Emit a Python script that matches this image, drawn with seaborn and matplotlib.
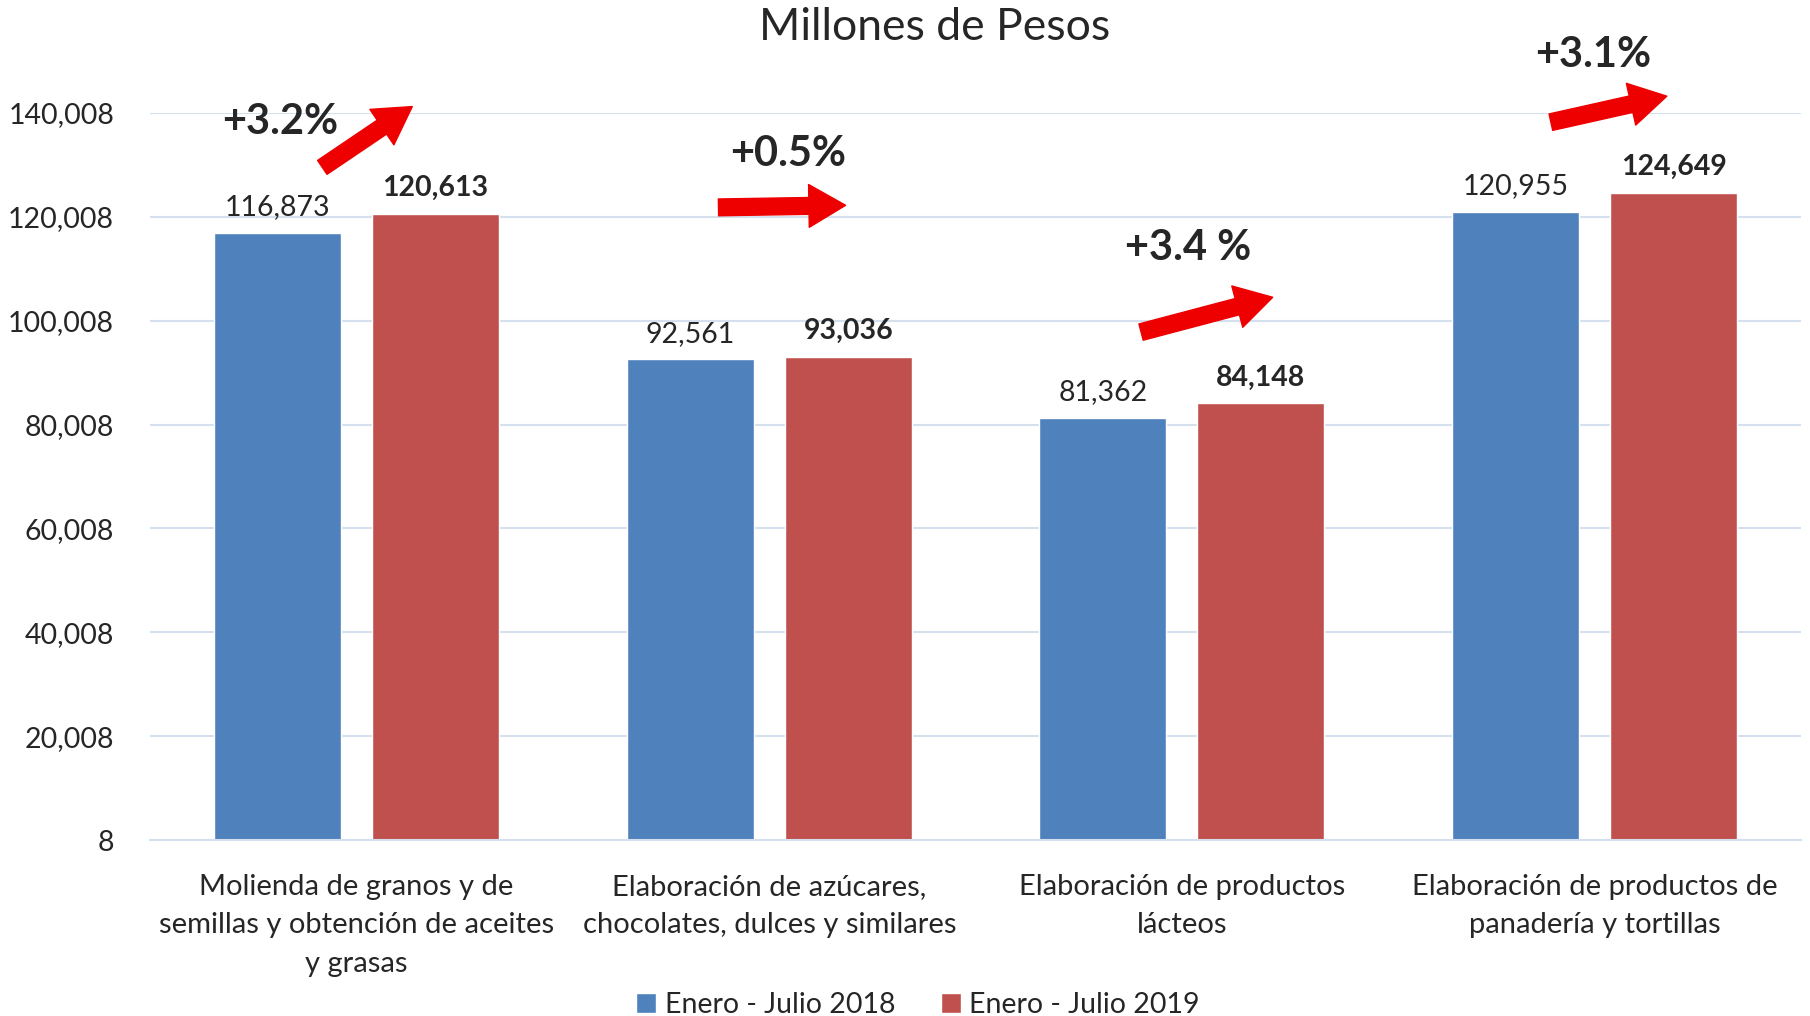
import pandas as pd
import numpy as np
import matplotlib
matplotlib.use('Agg')
import matplotlib.pyplot as plt
import seaborn as sns

# data
categorias = ['Molienda de granos y de\nsemillas y obtención de aceites\ny grasas',
              'Elaboración de azúcares,\nchocolates, dulces y similares',
              'Elaboración de productos\nlácteos',
              'Elaboración de productos de\npanadería y tortillas']
periodos = ['Enero - Julio 2018', 'Enero - Julio 2019']
valores_2018 = [116873, 92561, 81362, 120955]
valores_2019 = [120613, 93036, 84148, 124649]
variaciones = ['+3.2%', '+0.5%', '+3.4 %', '+3.1%']
y_ticks = [8, 20008, 40008, 60008, 80008, 100008, 120008, 140008]

df = pd.DataFrame({
    'Categoria': categorias * 2,
    'Periodo': [periodos[0]] * 4 + [periodos[1]] * 4,
    'Valor': valores_2018 + valores_2019,
})

sns.set_style('white')
plt.rcParams['font.family'] = ['Lato', 'DejaVu Sans']

fig = plt.figure(figsize=(18.1, 10.16), dpi=100)
ax = fig.add_axes([0.083, 0.173, 0.912, 0.716])

sns.barplot(data=df, x='Categoria', y='Valor', hue='Periodo',
            palette=['#4F81BD', '#C0504D'], width=0.766, gap=0.196,
            saturation=1, ax=ax, errorbar=None)

# value labels
ax.bar_label(ax.containers[0], labels=[f'{v:,}' for v in valores_2018],
             padding=9, fontsize=20.5)
ax.bar_label(ax.containers[1], labels=[f'{v:,}' for v in valores_2019],
             padding=9, fontsize=20.5, fontweight='bold')

ax.set_ylim(8, 140008)
ax.set_yticks(y_ticks)
ax.set_yticklabels([f'{t:,}' for t in y_ticks], fontsize=20.5)
ax.tick_params(axis='x', labelsize=21, length=0, pad=24)
ax.tick_params(axis='y', length=0, pad=26)
for lbl in ax.get_xticklabels():
    lbl.set_linespacing(1.6)
ax.set_xlim(-0.5, 3.5)
ax.set_xlabel('')
ax.set_ylabel('')
ax.grid(axis='y', color='#D5E0EF', linewidth=1.5)
ax.set_axisbelow(True)
for s in ['top', 'right', 'left']:
    ax.spines[s].set_visible(False)
ax.spines['bottom'].set_color('#D5E0EF')
ax.spines['bottom'].set_linewidth(1.5)

fig.suptitle('Millones de Pesos', x=0.5166, y=0.993, fontsize=32)

# percent change annotations with red arrows
arrows = [((-0.083, 129500), (0.135, 141200)),
          ((0.877, 121800), (1.185, 122200)),
          ((1.901, 97800), (2.22, 104500)),
          ((2.894, 138200), (3.175, 143200))]
text_pos = [(-0.186, 138200), (1.045, 132000), (2.015, 114000), (2.997, 151100)]
for (tail, head), (tx, ty), txt in zip(arrows, text_pos, variaciones):
    ax.annotate('', xy=head, xytext=tail, annotation_clip=False,
                arrowprops=dict(arrowstyle='simple,head_length=1.2,head_width=1.4,tail_width=0.55',
                                color='#EE0000', mutation_scale=22, shrinkA=0, shrinkB=0))
    ax.text(tx, ty, txt, ha='center', va='center', fontsize=30,
            fontweight='bold', clip_on=False)

ax.legend(loc='lower center', bbox_to_anchor=(0.465, -0.28), ncol=2,
          frameon=False, fontsize=20.5, handlelength=0.7, handleheight=0.7,
          handletextpad=0.3, columnspacing=1.6)

fig.savefig('out.png', dpi=100)
